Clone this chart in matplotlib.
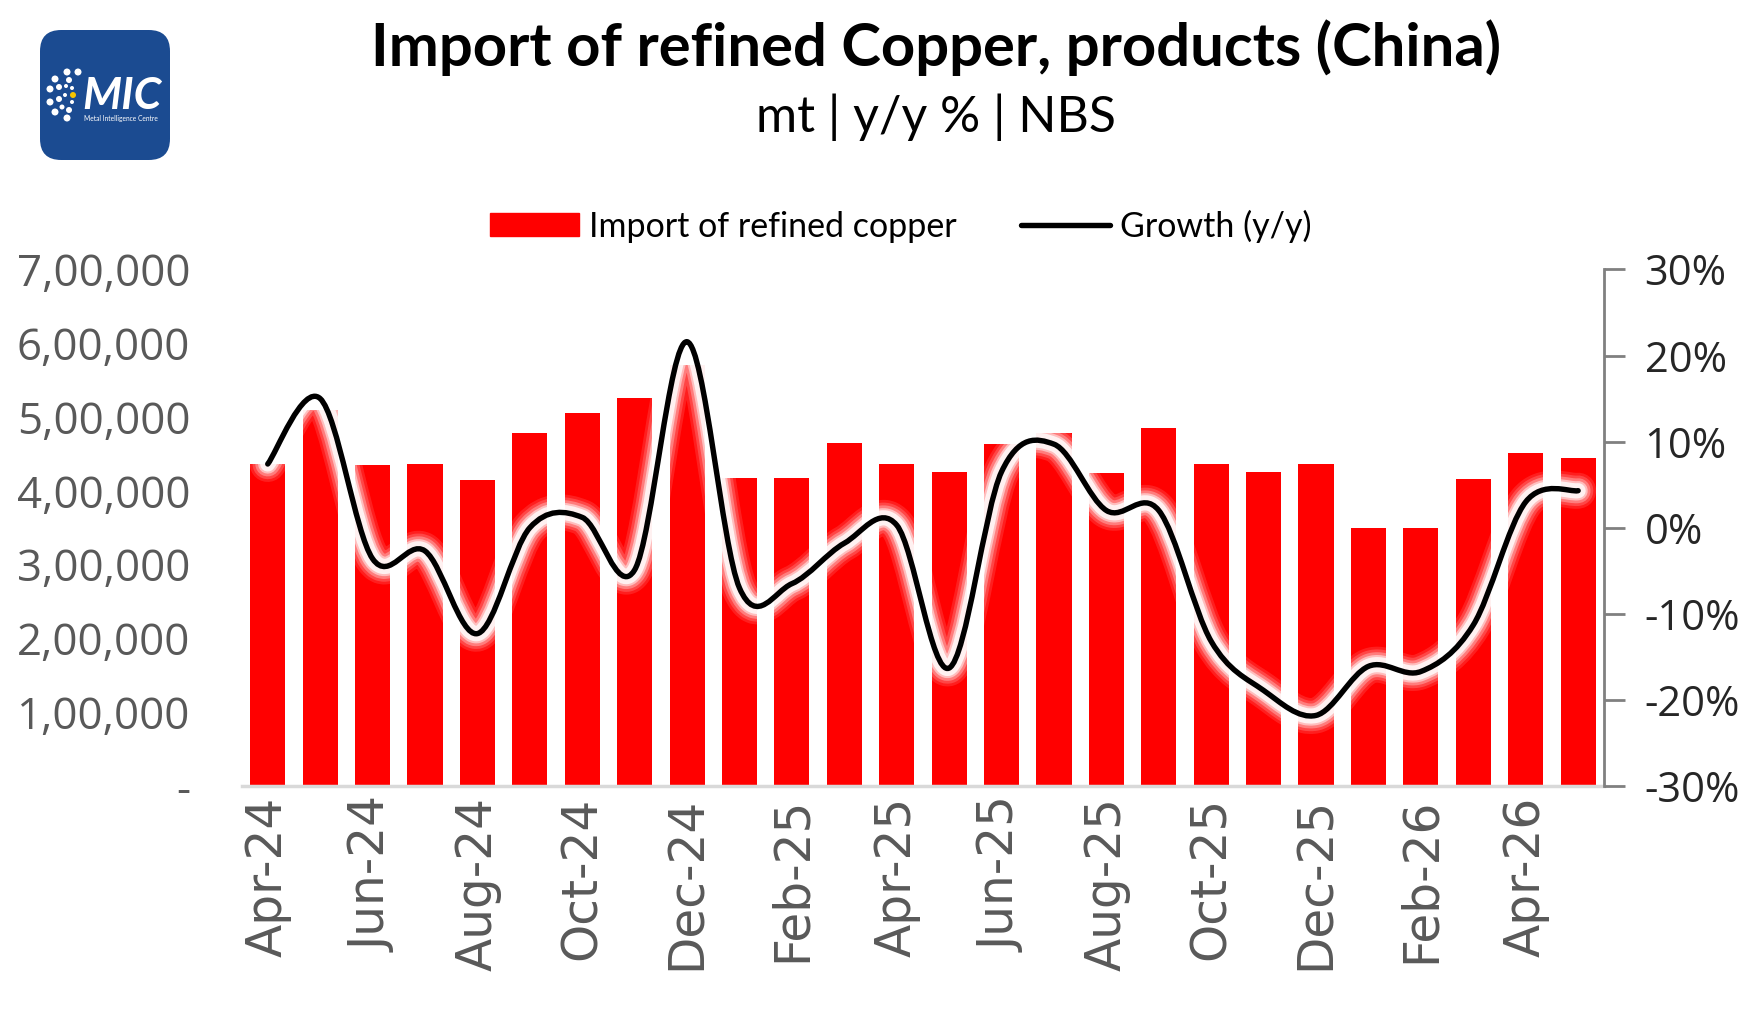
import numpy as np
import matplotlib
matplotlib.use("Agg")
import matplotlib.pyplot as plt
from matplotlib.path import Path
from matplotlib.patches import PathPatch, FancyBboxPatch, Ellipse
from matplotlib.lines import Line2D
import matplotlib.patheffects as pe
from matplotlib.ticker import FuncFormatter, FixedLocator

# monthly data, Apr-24 .. May-26
months = ["Apr-24", "May-24", "Jun-24", "Jul-24", "Aug-24", "Sep-24", "Oct-24",
          "Nov-24", "Dec-24", "Jan-25", "Feb-25", "Mar-25", "Apr-25", "May-25",
          "Jun-25", "Jul-25", "Aug-25", "Sep-25", "Oct-25", "Nov-25", "Dec-25",
          "Jan-26", "Feb-26", "Mar-26", "Apr-26", "May-26"]
imports = [437000, 510000, 435000, 437000, 414000, 478000, 505000, 526000,
           570000, 417000, 417000, 465000, 437000, 426000, 463000, 479000,
           424000, 485000, 437000, 426000, 436000, 350000, 350000, 416000,
           451000, 445000]
growth = [7.4, 15.0, -3.6, -2.7, -12.3, 0.0, 1.2, -4.9, 21.6, -7.0, -6.5,
          -1.8, 0.3, -16.3, 6.5, 9.7, 2.0, 2.0, -13.2, -18.9, -21.8, -16.1,
          -16.7, -11.3, 3.0, 4.3]

RED = "#FF0000"
GREY = "#595959"

fig = plt.figure(figsize=(17.63, 10.09), dpi=100)
ax = fig.add_axes([0.137, 0.221, 0.773, 0.512])
ax2 = ax.twinx()

x = np.arange(len(months))
ax.bar(x, imports, width=0.67, color=RED, zorder=2)
ax.set_xlim(-0.5, len(months) - 0.5)
ax.set_ylim(0, 700000)


def lakh(v, pos):
    if v == 0:
        return "-"
    s = str(int(round(v)))
    head, tail = s[:-3], s[-3:]
    parts = []
    while len(head) > 2:
        parts.insert(0, head[-2:])
        head = head[:-2]
    if head:
        parts.insert(0, head)
    return ",".join(parts + [tail])


ax.yaxis.set_major_locator(FixedLocator(np.arange(0, 700001, 100000)))
ax.yaxis.set_major_formatter(FuncFormatter(lakh))
ax.tick_params(axis="y", length=0, pad=37, labelsize=31.5, labelcolor=GREY)
for t in ax.get_yticklabels():
    t.set_fontfamily("Open Sans")

ax.set_xticks(x[::2])
ax.set_xticklabels(months[::2], rotation=90, fontsize=35, color=GREY,
                   fontfamily="DejaVu Sans")
ax.tick_params(axis="x", length=0, pad=8)

for s in ["top", "left", "right"]:
    ax.spines[s].set_visible(False)
ax.spines["bottom"].set_color("#D9D9D9")
ax.spines["bottom"].set_linewidth(2.5)

# growth line, Excel-style smoothed bezier through the points
ax2.set_ylim(-30, 30)
ax2.yaxis.set_major_locator(FixedLocator(np.arange(-30, 31, 10)))
ax2.yaxis.set_major_formatter(FuncFormatter(lambda v, p: "%d%%" % v))
ax2.tick_params(axis="y", length=15, width=2, color="#808080", pad=14,
                labelsize=30, labelcolor="#262626")
for t in ax2.get_yticklabels():
    t.set_fontfamily("Open Sans")
for s in ["top", "left", "bottom"]:
    ax2.spines[s].set_visible(False)
ax2.spines["right"].set_color("#808080")
ax2.spines["right"].set_linewidth(2)

pts = np.column_stack([x, growth]).astype(float)
verts = [pts[0]]
codes = [Path.MOVETO]
n = len(pts)
for i in range(n - 1):
    p0 = pts[max(i - 1, 0)]
    p1 = pts[i]
    p2 = pts[i + 1]
    p3 = pts[min(i + 2, n - 1)]
    verts += [p1 + (p2 - p0) / 6.0, p2 - (p3 - p1) / 6.0, p2]
    codes += [Path.CURVE4] * 3
curve = PathPatch(Path(verts, codes), facecolor="none", edgecolor="black",
                  linewidth=3.9, capstyle="round", joinstyle="round", zorder=3)
glow = []
for w, a in [(22, 0.12), (18, 0.18), (14, 0.3), (10, 0.5), (7, 0.8)]:
    glow.append(pe.Stroke(linewidth=3.9 + w, foreground="white", alpha=a))
curve.set_path_effects(glow + [pe.Normal()])
ax2.add_patch(curve)

# legend
handles = [plt.Rectangle((0, 0), 1, 1, color=RED),
           Line2D([0], [0], color="black", linewidth=3.9, solid_capstyle="round")]
fig.legend(handles, ["Import of refined copper", "Growth (y/y)"], loc="center",
           bbox_to_anchor=(0.511, 0.776), ncol=2, frameon=False,
           prop={"family": "Lato", "size": 24.5}, handlelength=2.6,
           handleheight=0.65, handletextpad=0.3, columnspacing=1.9)

# titles
fig.text(0.531, 0.953, "Import of refined Copper, products (China)", ha="center",
         va="center", fontsize=43, fontweight="bold", family="Lato", color="black")
fig.text(0.531, 0.884, "mt | y/y % | NBS", ha="center", va="center",
         fontsize=36, family="Lato", color="black")

# logo
W, H = 1763.0, 1009.0
fig.patches.append(FancyBboxPatch((40 / W, 1 - 160 / H), 130 / W, 130 / H,
                                  boxstyle="round,pad=0,rounding_size=0.012",
                                  transform=fig.transFigure, facecolor="#1B4B91",
                                  edgecolor="none", mutation_aspect=W / H))
fig.text(122 / W, 1 - 96 / H, "MIC", ha="center", va="center",
         fontsize=32, fontweight="bold", fontstyle="italic", color="white",
         family="Lato")
fig.text(121 / W, 1 - 118 / H, "Metal Intelligence Centre", ha="center",
         va="center", fontsize=4.8, color="white", family="Lato")
for px, py, r in [(67, 72, 3.5), (78, 72, 3.5), (55, 79, 3.5), (69, 80, 3),
                  (50, 89, 3.5), (59, 87, 3), (50, 102, 3.5), (59, 99, 3),
                  (55, 112, 3.5), (67, 118, 3.5), (69, 110, 3), (62, 107, 2.5),
                  (65, 95, 2), (72, 88, 2), (66, 86, 2), (72, 102, 2)]:
    fig.patches.append(Ellipse((px / W, 1 - py / H), 2 * r / W, 2 * r / H,
                               transform=fig.transFigure, facecolor="white",
                               edgecolor="none"))
fig.patches.append(Ellipse((73 / W, 1 - 95 / H), 6 / W, 6 / H,
                           transform=fig.transFigure, facecolor="#F5C400",
                           edgecolor="none"))

fig.savefig("out.png", dpi=100)
